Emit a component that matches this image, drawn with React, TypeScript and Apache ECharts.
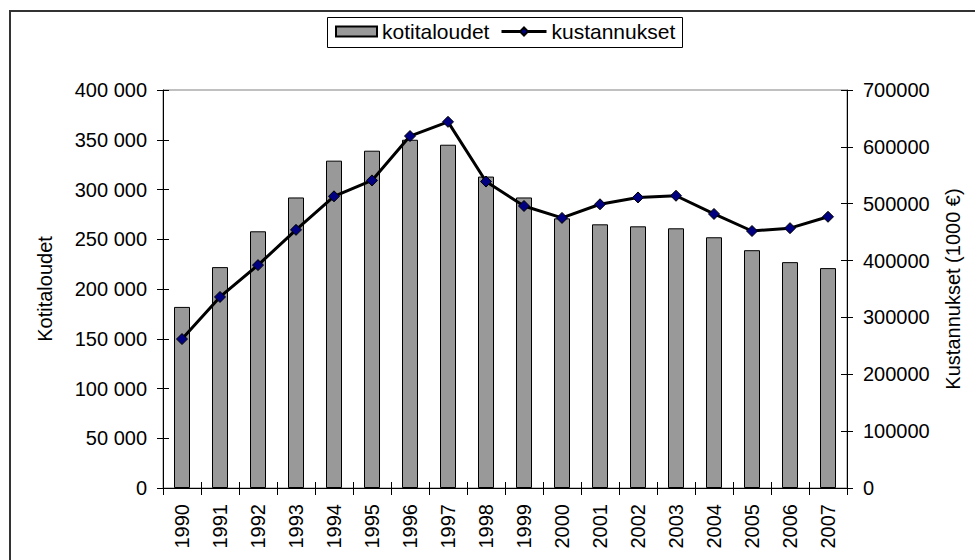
import React, { useEffect, useRef } from "react";
import * as echarts from "echarts";

const years = ["1990", "1991", "1992", "1993", "1994", "1995", "1996", "1997", "1998", "1999", "2000", "2001", "2002", "2003", "2004", "2005", "2006", "2007"];
const households = [182000, 222000, 258000, 292000, 329000, 339000, 350000, 345000, 313000, 292000, 271000, 265000, 263000, 261000, 252000, 239000, 227000, 221000];
const costs = [262000, 336000, 392000, 454000, 513000, 541000, 619000, 644000, 539000, 496000, 475000, 499000, 511000, 514000, 482000, 452000, 457000, 477000];
const barName = "kotitaloudet";
const lineName = "kustannukset";
const leftAxisName = "Kotitaloudet";
const rightAxisName = "Kustannukset (1000 €)";

const FONT = "'Liberation Sans', Arial, sans-serif";

function spaced(v: number): string {
  return String(v).replace(/\B(?=(\d{3})+(?!\d))/g, " ");
}

export default function App() {
  const ref = useRef<HTMLDivElement>(null);
  useEffect(() => {
    if (!ref.current) return;
    const chart = echarts.init(ref.current, null, { renderer: "svg" });
    const grid = { left: 163, right: 128, top: 90, bottom: 72, show: true, borderColor: "#808080", borderWidth: 1 };
    const labelStyle = { color: "#000", fontSize: 20, fontFamily: FONT };
    chart.setOption({
      animation: false,
      backgroundColor: "#fff",
      grid,
      legend: [
        {
          data: [barName],
          left: 335,
          top: 21,
          padding: 0,
          itemWidth: 41,
          itemHeight: 10,
          icon: "rect",
          textStyle: { color: "#000", fontSize: 21, fontFamily: FONT },
        },
        {
          data: [lineName],
          left: 500,
          top: 21,
          padding: 0,
          itemWidth: 45,
          itemHeight: 10,
          lineStyle: { width: 3, color: "#000" },
          textStyle: { color: "#000", fontSize: 21, fontFamily: FONT },
        },
      ],
      graphic: [
        {
          type: "rect",
          shape: { x: 10, y: 11, width: 1000, height: 600 },
          style: { fill: "none", stroke: "#333", lineWidth: 2 },
          silent: true,
        },
        {
          type: "rect",
          shape: { x: 327.5, y: 17.5, width: 355, height: 30 },
          style: { fill: "none", stroke: "#000", lineWidth: 1 },
          silent: true,
          z: -1,
        },
      ],
      xAxis: [
        {
          type: "category",
          data: years,
          position: "bottom",
          axisLine: { lineStyle: { color: "#000", width: 1 } },
          axisTick: { show: true, length: 7, lineStyle: { color: "#000" } },
          axisLabel: { ...labelStyle, rotate: 90, margin: 16, interval: 0 },
          splitLine: { show: false },
        },
        {
          type: "category",
          data: years,
          position: "bottom",
          axisLine: { show: false },
          axisTick: { show: true, inside: true, length: 6, lineStyle: { color: "#000" } },
          axisLabel: { show: false },
          splitLine: { show: false },
        },
      ],
      yAxis: [
        {
          type: "value",
          position: "left",
          min: 0,
          max: 400000,
          interval: 50000,
          name: leftAxisName,
          nameLocation: "middle",
          nameGap: 108,
          nameTextStyle: { color: "#000", fontSize: 20, fontFamily: FONT },
          axisLine: { show: true, lineStyle: { color: "#000", width: 1 } },
          axisTick: { show: true, length: 6, lineStyle: { color: "#000" } },
          axisLabel: { ...labelStyle, margin: 16, formatter: (v: number) => spaced(v) },
          splitLine: { show: false },
        },
        {
          type: "value",
          position: "right",
          min: 0,
          max: 700000,
          interval: 100000,
          name: rightAxisName,
          nameLocation: "middle",
          nameGap: 96,
          nameTextStyle: { color: "#000", fontSize: 20, fontFamily: FONT },
          axisLine: { show: true, lineStyle: { color: "#000", width: 1 } },
          axisTick: { show: true, length: 6, lineStyle: { color: "#000" } },
          axisLabel: { ...labelStyle, margin: 16, formatter: (v: number) => String(v) },
          splitLine: { show: false },
        },
        {
          type: "value",
          position: "left",
          min: 0,
          max: 400000,
          interval: 50000,
          axisLine: { show: false },
          axisTick: { show: true, inside: true, length: 6, lineStyle: { color: "#000" } },
          axisLabel: { show: false },
          splitLine: { show: false },
        },
        {
          type: "value",
          position: "right",
          min: 0,
          max: 700000,
          interval: 100000,
          axisLine: { show: false },
          axisTick: { show: true, inside: true, length: 6, lineStyle: { color: "#000" } },
          axisLabel: { show: false },
          splitLine: { show: false },
        },
      ],
      series: [
        {
          name: barName,
          type: "bar",
          xAxisIndex: 0,
          yAxisIndex: 0,
          data: households,
          barWidth: 16,
          itemStyle: { color: "#999999", borderColor: "#000", borderWidth: 1 },
        },
        {
          name: lineName,
          type: "line",
          xAxisIndex: 0,
          yAxisIndex: 1,
          data: costs,
          symbol: "diamond",
          symbolSize: 11,
          lineStyle: { color: "#000", width: 3 },
          itemStyle: { color: "#000080", borderColor: "#000", borderWidth: 1 },
          z: 5,
        },
      ],
    });
    return () => chart.dispose();
  }, []);
  return (
    <div
      ref={ref}
      style={{ position: "fixed", left: 0, top: 0, width: 975, height: 560, background: "#fff" }}
    />
  );
}
